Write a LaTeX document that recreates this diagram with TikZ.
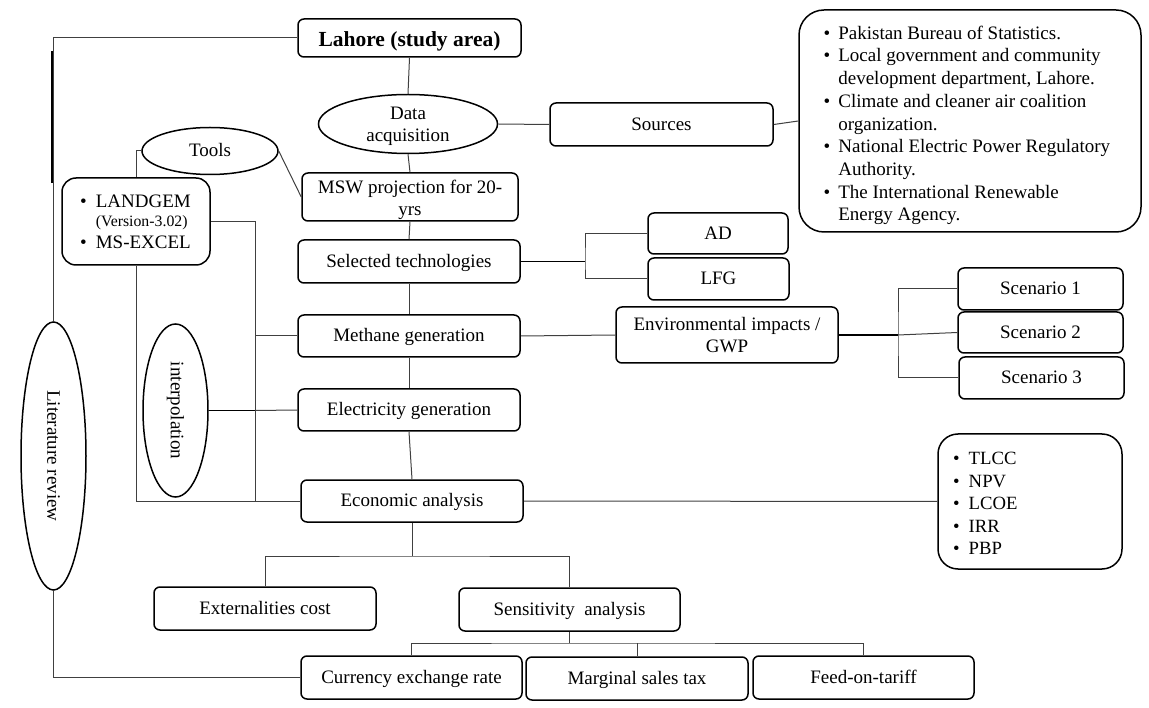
\documentclass[tikz,border=0pt]{standalone}
\usepackage{fontspec}
\setmainfont{Liberation Serif}
\usetikzlibrary{shapes.geometric,calc}
\begin{document}
\begin{tikzpicture}[x=1pt,y=-1pt,
  base/.style={font=\fontsize{19}{22}\selectfont, inner sep=0pt, align=center, text=black},
  one/.style={text height=14.5pt, text depth=2.5pt},
  rbox/.style 2 args={base, draw=black, line width=1.5pt, rounded corners=6pt, minimum width=#1pt, minimum height=#2pt},
  oval/.style 2 args={base, ellipse, draw=black, line width=1.5pt, minimum width=#1pt, minimum height=#2pt},
  link/.style={draw=black!75, line width=1pt},
  heavy/.style={draw=black, line width=1.8pt},
]
\useasboundingbox (0,0) rectangle (1149,708);
% nodes
\node[rbox={223}{38}, text height=18pt, text depth=1pt, font=\fontsize{21.5}{24}\selectfont\bfseries] (lahore) at (409.5,38) {Lahore (study area)};
\node[oval={179}{59}] (dataacq) at (408,124) {};
\node[base] (dataacqtext) at ($(dataacq.center)+(0,2)$) {Data\\acquisition};
\node[rbox={223}{43}, one] (sources) at (661.5,124.5) {Sources};
\node[rbox={342}{222}, rounded corners=25pt] (srclist) at (970,121) {};
\node[base, anchor=west, align=left, font=\fontsize{19}{22.7}\selectfont] (srctext) at (823.5,125.5) {%
\begin{tabular}{@{}l@{\hspace{8pt}}l@{}}
\textbullet & Pakistan Bureau of Statistics.\\
\textbullet & Local government and community\\
 & development department, Lahore.\\
\textbullet & Climate and cleaner air coalition\\
 & organization.\\
\textbullet & National Electric Power Regulatory\\
 & Authority.\\
\textbullet & The International Renewable\\
 & Energy Agency.
\end{tabular}};
\node[oval={136}{47}, one] (tools) at (210,151) {Tools};
\node[rbox={216}{48}] (msw) at (410,197) {};
\node[base] (mswtext) at ($(msw.center)+(0,2.5)$) {MSW projection for 20-\\yrs};
\node[rbox={148}{87}, rounded corners=14pt] (landgem) at (136,221.5) {};
\node[base, anchor=west, align=left, font=\fontsize{19}{22}\selectfont] (landtext) at (80,223.5) {%
\begin{tabular}{@{}l@{\hspace{9pt}}l@{}}
\textbullet & LANDGEM\\[-3pt]
 & {\fontsize{15.8}{20}\selectfont(Version-3.02)}\\
\textbullet & MS-EXCEL
\end{tabular}};
\node[rbox={222}{43}, one] (selected) at (409,261.5) {Selected technologies};
\node[rbox={140}{41}, one] (ad) at (718,233.5) {AD};
\node[rbox={141}{42}, one] (lfg) at (718.5,279) {LFG};
\node[rbox={222}{42}, one] (methane) at (409,336) {Methane generation};
\node[rbox={222}{56}] (env) at (727,335) {Environmental impacts /\\GWP};
\node[rbox={165}{42}, one] (sc1) at (1040.5,289) {Scenario 1};
\node[rbox={165}{41}, one] (sc2) at (1040.5,332.5) {Scenario 2};
\node[rbox={165}{42}, one] (sc3) at (1041.5,378) {Scenario 3};
\node[rbox={222}{42}, one] (elec) at (409,410) {Electricity generation};
\node[oval={65}{173}] (interp) at (175.5,410.5) {};
\node[base, rotate=-90] (interptext) at (interp.center) {interpolation};
\node[oval={65}{268}] (litrev) at (53.5,456) {};
\node[base, rotate=-90] (litrevtext) at (litrev.center) {Literature review};
\node[rbox={222}{42}, one] (econ) at (412,501) {Economic analysis};
\node[rbox={184}{135}, rounded corners=20pt] (tlcc) at (1030,501.5) {};
\node[base, anchor=west, align=left, font=\fontsize{18.7}{22.5}\selectfont] (tlcctext) at (953,505) {%
\begin{tabular}{@{}l@{\hspace{9pt}}l@{}}
\textbullet & TLCC\\
\textbullet & NPV\\
\textbullet & LCOE\\
\textbullet & IRR\\
\textbullet & PBP
\end{tabular}};
\node[rbox={222}{43}, one] (ext) at (265,608.5) {Externalities cost};
\node[rbox={221}{43}, one] (sens) at (569.5,609.5) {Sensitivity\ \ analysis};
\node[rbox={221}{43}, one] (curr) at (411.5,677.5) {Currency exchange rate};
\node[rbox={222}{43}, one] (marg) at (637,678.5) {Marginal sales tax};
\node[rbox={221}{43}, one] (feed) at (863.5,677.5) {Feed-on-tariff};
% helper coordinates
\coordinate (thicktop) at (52,51);
\coordinate (thickbot) at (52,183);
\coordinate (bsel) at (585,261.5);
\coordinate (benv) at (898,335);
\coordinate (vtool) at (255,501);
\coordinate (beco) at (412,556);
\coordinate (bsens) at (569.5,643);
% connectors
\draw[link] (lahore.west) -| (litrev.north);
\draw[heavy] (thicktop) -- (thickbot);
\draw[link] (litrev.south) |- (curr.west);
\draw[link] (lahore.south) -- (dataacq.north);
\draw[link] (dataacq.east) -- (sources.west);
\draw[link] (sources.east) -- (srclist.west);
\draw[link] (dataacq.south) -- (msw.north);
\draw[link] (tools.west) -| (landgem.north);
\draw[link] (tools.east) -- (msw.west);
\draw[link] (msw.south) -- (selected.north);
\draw[heavy] (selected.east) -- (bsel);
\draw[link] (ad.west) -| (bsel) |- (lfg.west);
\draw[link] (selected.south) -- (methane.north);
\draw[link] (methane.south) -- (elec.north);
\draw[link] (elec.south) -- (econ.north);
\draw[link] (methane.east) -- (env.west);
\draw[heavy] (env.east) -- (benv);
\draw[link] (sc1.west) -| (benv) |- (sc3.west);
\draw[link] (benv) -- (sc2.west);
\draw[link] (landgem.east) -| (vtool) -- (econ.west);
\draw[link] (methane.west) -- (methane.west -| vtool);
\draw[heavy] (interp.east) -- (interp.east -| vtool);
\draw[link] (interp.east -| vtool) -- (elec.west);
\draw[link] (landgem.south) |- (vtool);
\draw[link] (econ.east) -- (tlcc.west);
\draw[link] (econ.south) -- (beco);
\draw[link] (ext.north) |- (beco) -| (sens.north);
\draw[link] (sens.south) -- (bsens);
\draw[link] (curr.north) |- (bsens) -| (feed.north);
\draw[link] (bsens -| marg.north) -- (marg.north);
\end{tikzpicture}
\end{document}
